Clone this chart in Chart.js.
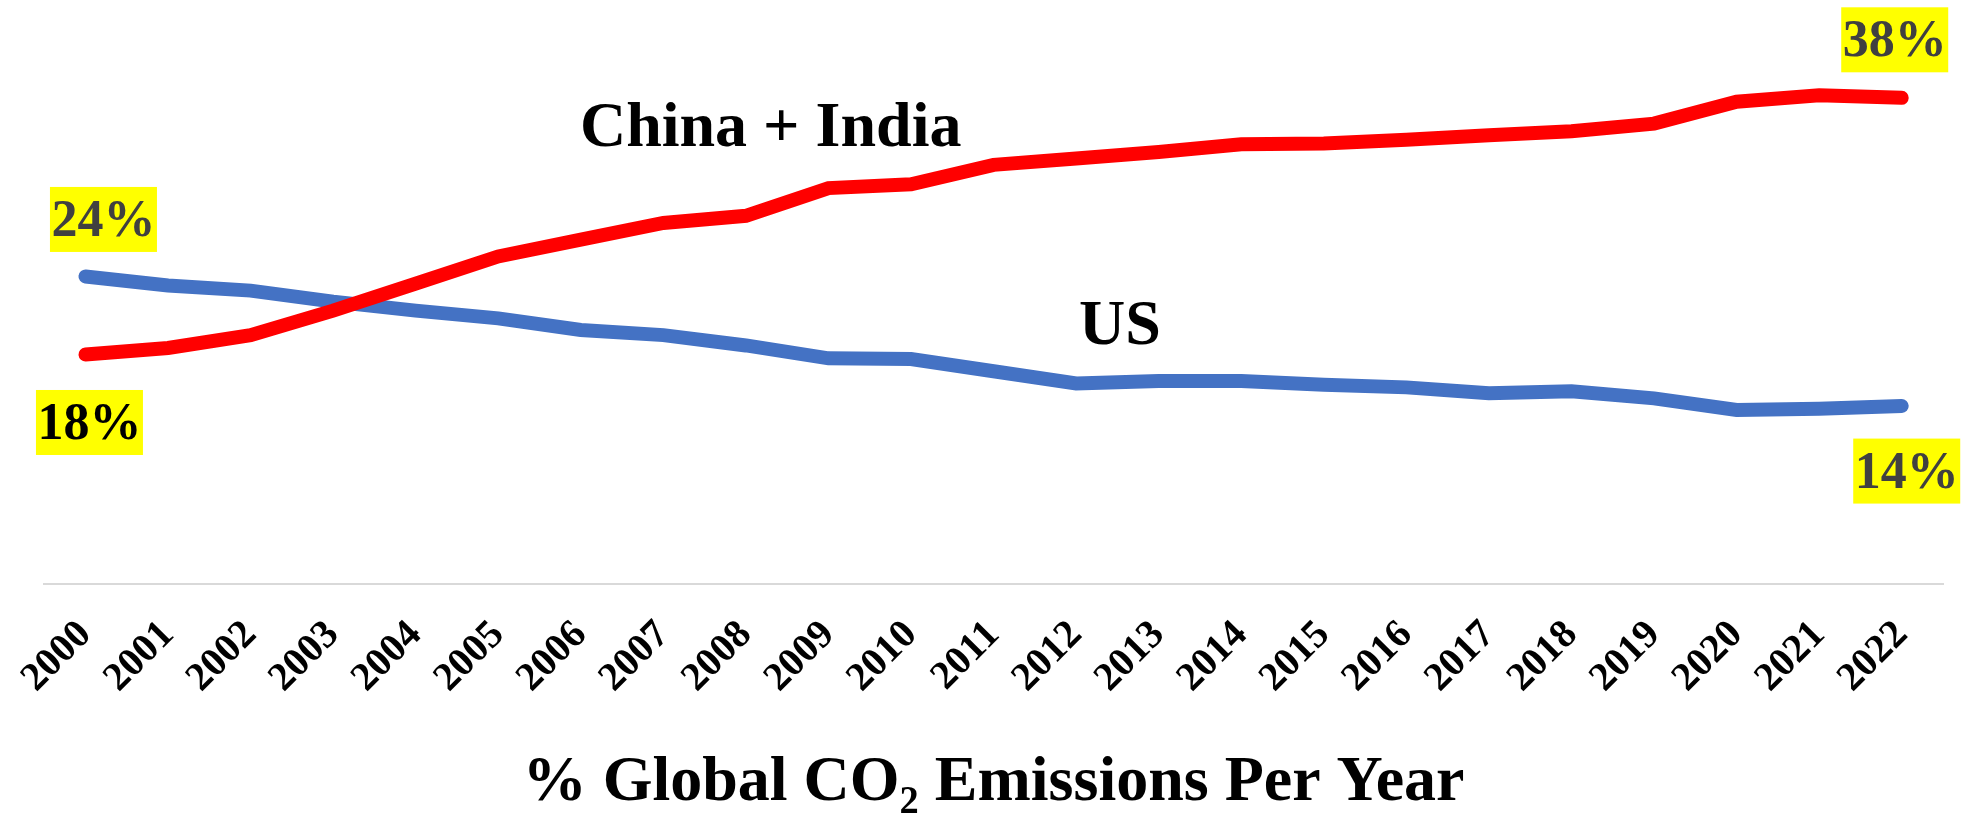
<!DOCTYPE html>
<html>
<head>
<meta charset="utf-8">
<script src="https://cdn.jsdelivr.net/npm/chart.js@4"></script>
<style>
  html, body { margin: 0; padding: 0; background: #fff; }
  #wrap { width: 1967px; height: 813px; position: relative; }
</style>
</head>
<body>
<div id="wrap"><canvas id="chart1"></canvas></div>
<script>
// data
const years = ['2000', '2001', '2002', '2003', '2004', '2005', '2006', '2007', '2008', '2009', '2010',
  '2011', '2012', '2013', '2014', '2015', '2016', '2017', '2018', '2019', '2020', '2021', '2022'];

const chinaIndia = [18.0, 18.5, 19.5, 21.4, 23.5, 25.6, 26.9, 28.2, 28.75, 30.9, 31.2,
  32.7, 33.2, 33.7, 34.3, 34.35, 34.65, 35.0, 35.3, 35.9, 37.6, 38.1, 37.9];

const us = [24.05, 23.35, 22.95, 22.1, 21.4, 20.8, 19.9, 19.5, 18.7, 17.7, 17.65,
  16.7, 15.75, 15.95, 15.95, 15.65, 15.45, 15.0, 15.15, 14.6, 13.7, 13.8, 14.0];

const titleText = '% Global CO\u2082 Emissions Per Year';

// label kuning di awal dan akhir garis
const valueLabels = [
  { ds: 1, idx: 0, text: '24%', dx: 18, dy: -57, color: '#404040' },
  { ds: 0, idx: 0, text: '18%', dx: 4, dy: 68, color: '#000000' },
  { ds: 0, idx: 22, text: '38%', dx: -7, dy: -58, color: '#404040' },
  { ds: 1, idx: 22, text: '14%', dx: 5, dy: 65, color: '#404040' }
];

// nama seri di dalam chart (posisi pakai nilai sumbu)
const seriesNames = [
  { text: 'China + India', x: 8.3, y: 34.13 },
  { text: 'US', x: 12.53, y: 18.8 }
];

const serif = '"Liberation Serif", "Times New Roman", serif';

const labelPlugin = {
  id: 'labelPlugin',
  afterDatasetsDraw(chart) {
    const ctx = chart.ctx;
    const xs = chart.scales.x;
    const ys = chart.scales.y;
    ctx.save();
    // nama seri
    ctx.font = 'bold 64px ' + serif;
    ctx.fillStyle = '#000';
    ctx.textAlign = 'center';
    ctx.textBaseline = 'alphabetic';
    seriesNames.forEach(s => {
      ctx.fillText(s.text, xs.getPixelForValue(s.x), ys.getPixelForValue(s.y));
    });
    // kotak kuning
    ctx.font = 'bold 52px ' + serif;
    ctx.textBaseline = 'middle';
    valueLabels.forEach(l => {
      const pt = chart.getDatasetMeta(l.ds).data[l.idx];
      const cx = pt.x + l.dx;
      const cy = pt.y + l.dy;
      const w = 107, h = 65;
      ctx.fillStyle = '#FFFF00';
      ctx.fillRect(cx - w / 2, cy - h / 2, w, h);
      ctx.fillStyle = l.color;
      ctx.fillText(l.text, cx, cy + 3);
    });
    ctx.restore();
  }
};

const ctx = document.getElementById('chart1').getContext('2d');
window.chart = new Chart(ctx, {
  type: 'line',
  data: {
    labels: years,
    datasets: [{
      label: 'China + India',
      data: chinaIndia,
      borderColor: '#FF0000',
      borderWidth: 14,
      borderCapStyle: 'round',
      pointRadius: 0,
      tension: 0
    }, {
      label: 'US',
      data: us,
      borderColor: '#4472C4',
      borderWidth: 14,
      borderCapStyle: 'round',
      pointRadius: 0,
      tension: 0
    }]
  },
  options: {
    responsive: true,
    maintainAspectRatio: false,
    animation: false,
    layout: {
      autoPadding: false,
      padding: { left: 41, right: 24, top: 3, bottom: 0 }
    },
    plugins: {
      legend: { display: false },
      tooltip: { enabled: false }
    },
    scales: {
      x: {
        offset: true,
        grid: { display: false, drawTicks: false },
        border: { display: true, color: '#D9D9D9', width: 2 },
        ticks: {
          color: '#000',
          font: { family: serif, size: 40, weight: 'bold' },
          minRotation: 45,
          maxRotation: 45,
          padding: 28,
          autoSkip: false
        },
        title: {
          display: true,
          text: titleText,
          color: '#000',
          font: { family: serif, size: 64, weight: 'bold' },
          padding: { top: 15, bottom: -9 }
        }
      },
      y: {
        display: false,
        min: 0.23,
        max: 45.25
      }
    }
  },
  plugins: [labelPlugin]
});
</script>
</body>
</html>
